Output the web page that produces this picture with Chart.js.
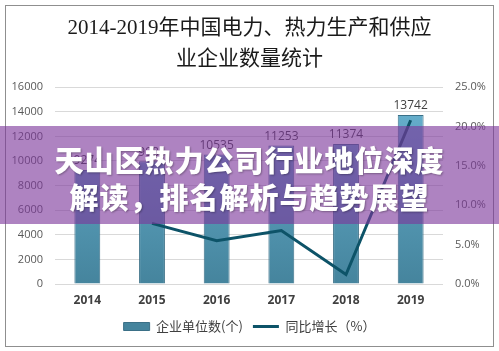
<!DOCTYPE html>
<html lang="zh">
<head>
    <meta charset="UTF-8">
    <title>2014-2019年中国电力、热力生产和供应业企业数量统计</title>
    <script src="https://cdn.jsdelivr.net/npm/chart.js"></script>
    <style>
        body { margin: 0; background: #fff; }
        #wrap { position: relative; width: 499px; height: 351px; overflow: hidden; }
        #frame {
            position: absolute; left: 5px; top: 5px; width: 487px; height: 340px;
            border: 1px solid #8f8f8f; pointer-events: none;
        }
        #banner {
            position: absolute; left: 0; top: 126px; width: 499px; height: 98px;
            background: rgba(125, 55, 155, 0.62);
            color: #fff; text-align: center;
            font-family: "Noto Sans CJK SC", sans-serif; font-weight: 900;
            font-size: 29px; letter-spacing: 1px; line-height: 37px;
            padding-top: 15px; box-sizing: border-box;
            text-shadow: 1px 1px 2px rgba(0, 0, 0, 0.3);
        }
    </style>
</head>
<body>
    <div id="wrap">
        <canvas id="chart" width="499" height="351"></canvas>
        <div id="frame"></div>
        <div id="banner">天山区热力公司行业地位深度<br>解读，排名解析与趋势展望</div>
    </div>

    <script>
        // data
        const years = ['2014', '2015', '2016', '2017', '2018', '2019'];
        const enterpriseCounts = [9274, 9984, 10535, 11253, 11374, 13742];
        const growthRates = [null, 7.7, 5.5, 6.8, 1.2, 20.8];
        const leftTicks = [0, 2000, 4000, 6000, 8000, 10000, 12000, 14000, 16000];
        const rightTicks = [0, 5, 10, 15, 20, 25];

        const ctx = document.getElementById('chart').getContext('2d');

        function barGradient(context) {
            const area = context.chart.chartArea;
            if (!area) return '#4f93ad';
            const g = context.chart.ctx.createLinearGradient(0, area.top, 0, area.bottom);
            g.addColorStop(0, '#6ab4d2');
            g.addColorStop(1, '#45849d');
            return g;
        }

        // value labels above the bars (bar dataset is index 1)
        const barLabels = {
            id: 'barLabels',
            afterDatasetsDraw(chart) {
                const meta = chart.getDatasetMeta(1);
                const c = chart.ctx;
                c.save();
                c.font = '12px "Open Sans", sans-serif';
                c.fillStyle = '#404040';
                c.textAlign = 'center';
                c.textBaseline = 'bottom';
                meta.data.forEach((bar, i) => {
                    c.fillText(enterpriseCounts[i], bar.x, bar.y - 3);
                });
                c.restore();
            }
        };

        new Chart(ctx, {
            data: {
                labels: years,
                datasets: [
                    {
                        type: 'line',
                        label: '同比增长（%）',
                        data: growthRates,
                        yAxisID: 'y1',
                        borderColor: '#0d5368',
                        backgroundColor: '#0d5368',
                        borderWidth: 3,
                        pointRadius: 0,
                        pointStyle: 'line',
                        tension: 0,
                        order: 0
                    },
                    {
                        type: 'bar',
                        label: '企业单位数(个)',
                        data: enterpriseCounts,
                        yAxisID: 'y',
                        backgroundColor: barGradient,
                        borderColor: '#3b7087',
                        borderWidth: 1,
                        pointStyle: 'rect',
                        categoryPercentage: 1,
                        barPercentage: 0.4,
                        order: 1
                    }
                ]
            },
            options: {
                responsive: false,
                animation: false,
                layout: { padding: { left: 0, right: 0, top: 0, bottom: 8 } },
                plugins: {
                    title: {
                        display: true,
                        text: ['2014-2019年中国电力、热力生产和供应', '业企业数量统计'],
                        color: '#1a1a1a',
                        font: { family: '"Liberation Serif", "Noto Sans CJK SC", serif', size: 21, weight: 'normal', lineHeight: 1.48 },
                        padding: { top: 13, bottom: 12 }
                    },
                    legend: {
                        position: 'bottom',
                        reverse: true,
                        labels: {
                            color: '#404040',
                            font: { family: '"Noto Sans CJK SC", sans-serif', size: 13 },
                            usePointStyle: true,
                            pointStyleWidth: 26,
                            boxHeight: 8,
                            padding: 10
                        }
                    },
                    tooltip: { enabled: false }
                },
                scales: {
                    x: {
                        afterFit(scale) { scale.height = 26; },
                        grid: { display: false, drawTicks: false },
                        border: { display: false },
                        ticks: {
                            color: '#404040',
                            font: { family: '"Open Sans", sans-serif', size: 12, weight: 'bold' },
                            padding: 9
                        }
                    },
                    y: {
                        position: 'left',
                        min: 0,
                        max: 16000,
                        afterFit(scale) { scale.width = 55; },
                        afterBuildTicks(scale) { scale.ticks = leftTicks.map(v => ({ value: v })); },
                        grid: { color: '#d9d9d9', drawTicks: false },
                        border: { display: false },
                        ticks: {
                            color: '#595959',
                            font: { family: '"Open Sans", sans-serif', size: 11 },
                            padding: 12,
                            callback: v => String(v)
                        }
                    },
                    y1: {
                        position: 'right',
                        min: 0,
                        max: 25,
                        afterFit(scale) { scale.width = 56; },
                        afterBuildTicks(scale) { scale.ticks = rightTicks.map(v => ({ value: v })); },
                        grid: { display: false, drawTicks: false },
                        border: { display: false },
                        ticks: {
                            color: '#595959',
                            font: { family: '"Open Sans", sans-serif', size: 11 },
                            padding: 12,
                            callback: v => v.toFixed(1) + '%'
                        }
                    }
                }
            },
            plugins: [barLabels]
        });
    </script>
</body>
</html>
